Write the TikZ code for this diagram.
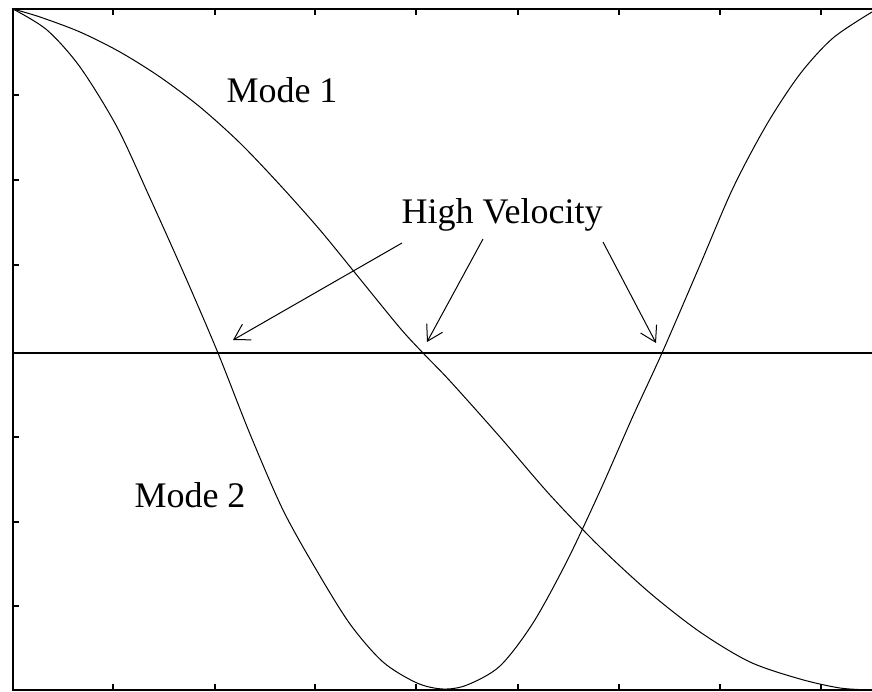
\documentclass[tikz,border=0pt]{standalone}
\usepackage{fontspec}
\setmainfont{Liberation Serif}
\usetikzlibrary{arrows.meta}

\begin{document}
\begin{tikzpicture}[
    x=1pt, y=-1pt,
    frame/.style={
        draw=black,
        line width=1.6pt
    },
    tick/.style={
        draw=black,
        line width=1.3pt
    },
    mode/.style={
        draw=black,
        line width=1pt,
        line join=round
    },
    pointer/.style={
        draw=black,
        line width=1pt,
        -{Straight Barb[length=15pt,width=18pt,line width=1pt]}
    },
    txt/.style={
        anchor=base,
        inner sep=0pt,
        font=\fontsize{36}{42}\selectfont
    }
]
\useasboundingbox (0,0) rectangle (872,691);

% Rahmen
\draw[frame] (872,9) -- (13,9) -- (13,690) -- (872,690);
\draw[frame] (13,353) -- (872,353);

% Teilstriche
\foreach \x in {113,215,315,416,518,619,720,821} {
    \draw[tick] (\x,9) -- (\x,15);
    \draw[tick] (\x,690) -- (\x,684);
}
\foreach \y in {95,180,265,437,522,606}
    \draw[tick] (13,\y) -- (19,\y);

% Mode 1
\draw[mode] plot[smooth] coordinates {
    (13,9) (40,17) (80,32) (120,52) (160,77) (200,107) (240,143)
    (280,185) (320,230) (360,279) (400,328) (423,353) (450,381)
    (500,437) (550,495) (600,547) (650,593) (700,632) (750,662)
    (800,679) (840,688) (872,690)};

% Mode 2
\draw[mode] plot[smooth] coordinates {
    (13,9) (47,30) (80,67) (117,127) (150,198) (185,276) (218,353)
    (250,434) (283,510) (317,571) (350,624) (383,662) (417,683)
    (443,689) (467,685) (500,666) (533,623) (567,561) (600,491)
    (633,416) (662,353) (700,265) (733,188) (767,124) (800,74)
    (833,38) (872,12)};

% Beschriftung
\node[txt] (mode1) at (282,102) {Mode 1};
\node[txt] (mode2) at (190,507) {Mode 2};
\node[txt] (hv) at (502,223) {High Velocity};

% Pfeile
\coordinate (tail1) at (402,243);
\coordinate (tip1) at (233,340);
\coordinate (tail2) at (483,239);
\coordinate (tip2) at (427,342);
\coordinate (tail3) at (603,242);
\coordinate (tip3) at (656,343);

\draw[pointer] (tail1) -- (tip1);
\draw[pointer] (tail2) -- (tip2);
\draw[pointer] (tail3) -- (tip3);

\end{tikzpicture}
\end{document}
